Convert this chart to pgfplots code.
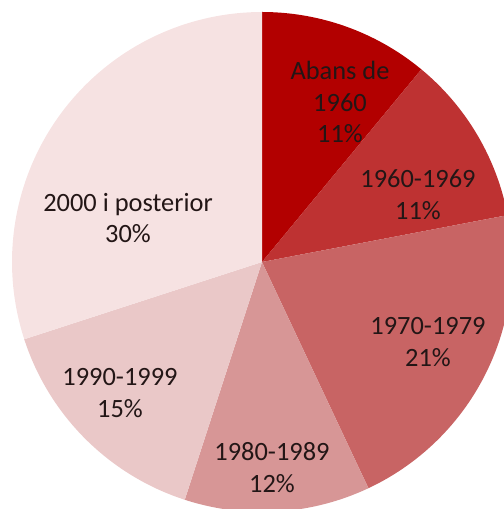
\documentclass[border=0pt]{standalone}
\usepackage{pgfplots}
\pgfplotsset{compat=1.18}
\usepackage{fontspec}
\setmainfont{Carlito}
\definecolor{c1}{RGB}{178,0,0}
\definecolor{c2}{RGB}{190,50,50}
\definecolor{c3}{RGB}{200,100,100}
\definecolor{c4}{RGB}{215,150,150}
\definecolor{c5}{RGB}{234,200,200}
\definecolor{c6}{RGB}{246,226,226}
\definecolor{txt}{RGB}{35,22,22}
% cumulative share (%) of each category, clockwise from 12 o'clock
\newcommand{\pieslice}[3]{%
  \addplot[draw=none, fill=#3, domain=#1:#2, samples=80]
    ({250*sin(3.6*x)}, {250*cos(3.6*x)}) -- (axis cs:0,0) -- cycle;}
\begin{document}
\begin{tikzpicture}
\begin{axis}[
  width=504bp, height=509bp, scale only axis,
  xmin=-262, xmax=242, ymin=-247, ymax=262,
  hide axis, clip=true,
]
\pieslice{0}{11}{c1}
\pieslice{11}{22}{c2}
\pieslice{22}{43}{c3}
\pieslice{43}{55}{c4}
\pieslice{55}{70}{c5}
\pieslice{70}{100}{c6}
\begin{scope}[every node/.style={align=center, text=txt, font=\fontsize{26.5}{32}\selectfont}]
\node at (axis cs:78,160) {Abans de\\1960\\11\%};
\node at (axis cs:156,67) {1960-1969\\11\%};
\node at (axis cs:166,-80) {1970-1979\\21\%};
\node at (axis cs:10,-206) {1980-1989\\12\%};
\node at (axis cs:-142,-131) {1990-1999\\15\%};
\node at (axis cs:-134,44) {2000 i posterior\\30\%};
\end{scope}
\end{axis}
\pgfresetboundingbox
\useasboundingbox (current axis.south west) rectangle (current axis.north east);
\end{tikzpicture}
\end{document}
